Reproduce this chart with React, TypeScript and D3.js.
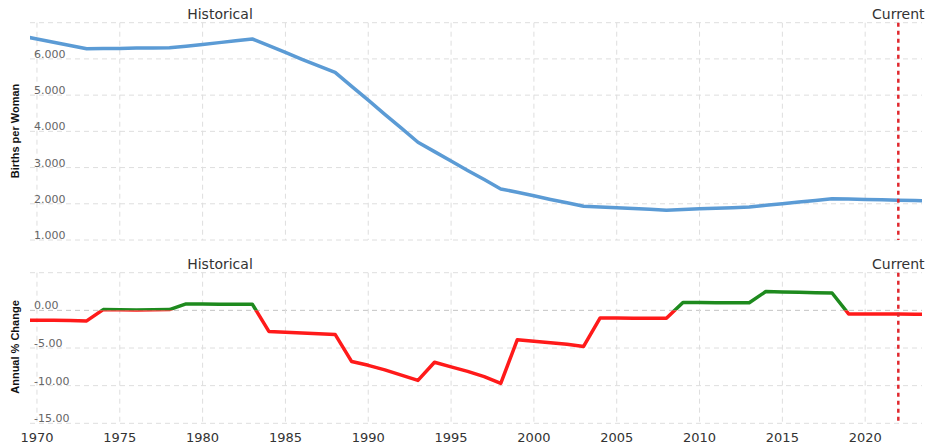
import * as d3 from "d3";

const years = d3.range(1969, 2025);

// births per woman
const births = [
  6.64, 6.55, 6.46, 6.37, 6.28, 6.29, 6.29, 6.3, 6.3, 6.31,
  6.35, 6.4, 6.45, 6.5, 6.55, 6.37, 6.18, 5.99, 5.81, 5.63,
  5.24, 4.86, 4.47, 4.09, 3.7, 3.44, 3.18, 2.92, 2.67, 2.41,
  2.32, 2.22, 2.12, 2.03, 1.93, 1.91, 1.89, 1.87, 1.85, 1.82,
  1.84, 1.86, 1.88, 1.89, 1.91, 1.96, 2.0, 2.05, 2.09, 2.14,
  2.13, 2.12, 2.11, 2.1, 2.09, 2.08
];

// annual % change
const change = [
  -1.3, -1.3, -1.32, -1.35, -1.4, 0.1, 0.08, 0.06, 0.08, 0.1,
  0.85, 0.83, 0.8, 0.8, 0.82, -2.8, -2.9, -3.0, -3.1, -3.2,
  -6.8, -7.3, -7.9, -8.6, -9.3, -6.9, -7.5, -8.1, -8.8, -9.7,
  -3.9, -4.1, -4.3, -4.5, -4.8, -1.0, -1.02, -1.05, -1.05, -1.05,
  1.05, 1.03, 1.0, 1.0, 1.0, 2.5, 2.45, 2.4, 2.35, 2.3,
  -0.47, -0.47, -0.48, -0.5, -0.52, -0.5
];

const xTicks = d3.range(1970, 2021, 5);
const topTicks = [1, 2, 3, 4, 5, 6, 7];
const bottomTicks = [5, 0, -5, -10, -15];
const currentYear = 2022;

const left = 30;
const right = 922;
const gridColor = "#dedede";
const font = "DejaVu Sans, Verdana, sans-serif";

export default function App() {
  const x = d3.scaleLinear().domain([1969.58, 2023.43]).range([left, right]);
  const yTop = d3.scaleLinear().domain([1, 7]).range([240, 22.7]);
  const yBot = d3.scaleLinear().domain([-15, 5]).range([423.3, 272.7]);

  const topLine = d3.line<number>()
    .x((_, i) => x(years[i]))
    .y(d => yTop(d));
  const botLine = d3.line<number>()
    .x((_, i) => x(years[i]))
    .y(d => yBot(d));

  const zeroY = yBot(0);

  const grid = (y: d3.ScaleLinear<number, number>, ticks: number[], dark?: number) => (
    <g>
      {ticks.map(t => (
        <line
          key={"h" + t}
          x1={left}
          x2={right}
          y1={y(t)}
          y2={y(t)}
          stroke={t === dark ? "#c4c4c4" : gridColor}
          strokeWidth={1}
          strokeDasharray="5,4"
        />
      ))}
      {xTicks.map(t => (
        <line
          key={"v" + t}
          x1={x(t)}
          x2={x(t)}
          y1={y.range()[1]}
          y2={y.range()[0]}
          stroke={gridColor}
          strokeWidth={1}
          strokeDasharray="5,4"
        />
      ))}
    </g>
  );

  const cx = x(currentYear);

  return (
    <svg
      width={926}
      height={445}
      style={{ position: "absolute", left: 0, top: 0, background: "#fff" }}
      fontFamily={font}
    >
      <defs>
        <clipPath id="plot">
          <rect x={left} y={0} width={right - left} height={445} />
        </clipPath>
        <clipPath id="above">
          <rect x={left} y={0} width={right - left} height={zeroY} />
        </clipPath>
        <clipPath id="below">
          <rect x={left} y={zeroY} width={right - left} height={445 - zeroY} />
        </clipPath>
      </defs>

      {/* upper panel */}
      {grid(yTop, topTicks)}
      {topTicks.filter(t => t < 7).map(t => (
        <text key={t} x={34} y={yTop(t) - 1} fontSize={11} fill="#666">
          {t.toFixed(3)}
        </text>
      ))}
      <path
        d={topLine(births) ?? ""}
        fill="none"
        stroke="#5b9bd5"
        strokeWidth={3.5}
        strokeLinejoin="round"
        clipPath="url(#plot)"
      />
      <line x1={cx} x2={cx} y1={22.7} y2={240} stroke="#e0282e" strokeWidth={2.5} strokeDasharray="4,4" />
      <text x={220} y={19} fontSize={14} fill="#333" textAnchor="middle">Historical</text>
      <text x={cx} y={19} fontSize={14} fill="#333" textAnchor="middle">Current</text>
      <text
        transform={`translate(19,131) rotate(-90)`}
        textAnchor="middle"
        fontSize={11}
        fontWeight="bold"
        fontFamily="Liberation Sans, Arial, sans-serif"
        fill="#111"
      >
        Births per Woman
      </text>

      {/* lower panel */}
      {grid(yBot, bottomTicks, 0)}
      {bottomTicks.filter(t => t < 5).map(t => (
        <text key={t} x={34} y={yBot(t) - 1} fontSize={11} fill="#666">
          {t.toFixed(2)}
        </text>
      ))}
      <path
        d={botLine(change) ?? ""}
        fill="none"
        stroke="#ff1a1a"
        strokeWidth={3.5}
        strokeLinejoin="round"
        clipPath="url(#below)"
      />
      <path
        d={botLine(change) ?? ""}
        fill="none"
        stroke="#1e8a1e"
        strokeWidth={3.5}
        strokeLinejoin="round"
        clipPath="url(#above)"
      />
      <line x1={cx} x2={cx} y1={272.7} y2={423.3} stroke="#e0282e" strokeWidth={2.5} strokeDasharray="4,4" />
      <text x={220} y={269} fontSize={14} fill="#333" textAnchor="middle">Historical</text>
      <text x={cx} y={269} fontSize={14} fill="#333" textAnchor="middle">Current</text>
      <text
        transform={`translate(19,347) rotate(-90)`}
        textAnchor="middle"
        fontSize={11}
        fontWeight="bold"
        fontFamily="Liberation Sans, Arial, sans-serif"
        fill="#111"
      >
        Annual % Change
      </text>

      {/* x axis labels */}
      {xTicks.map(t => (
        <text key={t} x={x(t)} y={442} fontSize={13} fill="#333" textAnchor="middle">
          {t}
        </text>
      ))}
    </svg>
  );
}
